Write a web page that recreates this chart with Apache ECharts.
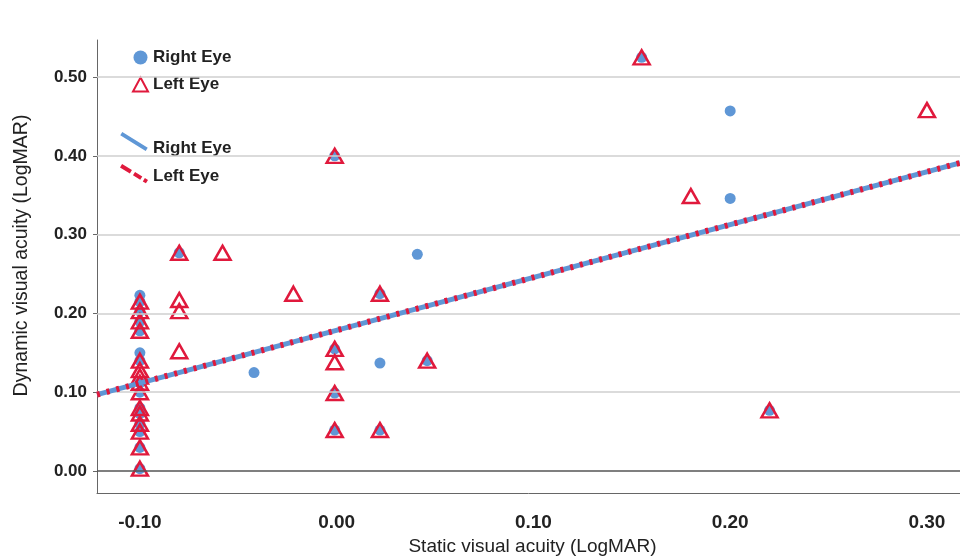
<!DOCTYPE html>
<html>
<head>
<meta charset="utf-8">
<script src="https://cdn.jsdelivr.net/npm/echarts@6/dist/echarts.min.js"></script>
<style>
html,body{margin:0;padding:0;background:#fff;}
#chart{width:960px;height:557px;}
</style>
</head>
<body>
<div id="chart"></div>
<script>
// ---- data ----
const xTicks = [-0.1, 0.0, 0.1, 0.2, 0.3];
const yTicks = [0.0, 0.1, 0.2, 0.3, 0.4, 0.5];

const rightEyeX = [-0.1, -0.1, -0.1, -0.1, -0.1, -0.1, -0.1, -0.1, -0.1, -0.1, -0.1, -0.1, -0.1, -0.1, -0.1,
                   -0.08, -0.001, -0.001, -0.001, -0.001, 0.022, 0.022, 0.046, 0.155, 0.22,
                   -0.042, 0.022, 0.041, 0.2, 0.2];
const rightEyeY = [0.223, 0.215, 0.203, 0.19, 0.178, 0.15, 0.14, 0.112, 0.10, 0.08, 0.073, 0.06, 0.05, 0.03, 0.003,
                   0.277, 0.40, 0.155, 0.099, 0.052, 0.225, 0.052, 0.14, 0.525, 0.077,
                   0.125, 0.137, 0.275, 0.457, 0.346];

const leftEyeX = [-0.1, -0.1, -0.1, -0.1, -0.1, -0.1, -0.1, -0.1, -0.1, -0.1, -0.1, -0.1, -0.1, -0.1, -0.1,
                  -0.08, -0.08, -0.08, -0.08, -0.058, -0.022,
                  -0.001, -0.001, -0.001, -0.001, -0.001, 0.022, 0.022, 0.046, 0.155, 0.18, 0.22, 0.30];
const leftEyeY = [0.215, 0.203, 0.19, 0.178, 0.14, 0.128, 0.12, 0.112, 0.10, 0.08, 0.073, 0.06, 0.05, 0.03, 0.003,
                  0.277, 0.217, 0.203, 0.152, 0.277, 0.225,
                  0.40, 0.155, 0.138, 0.099, 0.052, 0.225, 0.052, 0.14, 0.525, 0.349, 0.077, 0.458];

const fitRightX = [-0.1218, 0.3168];
const fitRightY = [0.097, 0.391];
const fitLeftX = [-0.1218, 0.3168];
const fitLeftY = [0.097, 0.391];

// ---- styles ----
const BLUE = '#5f97d6';
const RED = '#e0193c';
const FONT = 'Liberation Sans, Arial, sans-serif';

const zip = (xs, ys) => xs.map((x, i) => [x, ys[i]]);

// diagonal legend icons (with an invisible speck to push the drawn part upward)
function segPath(a, b) {
  const P = t => [1 + 26 * t, 1 + 16 * t];
  const n = [1.05, -1.7];
  const p1 = P(a), p2 = P(b);
  return 'M' + (p1[0] + n[0]) + ',' + (p1[1] + n[1]) +
         ' L' + (p2[0] + n[0]) + ',' + (p2[1] + n[1]) +
         ' L' + (p2[0] - n[0]) + ',' + (p2[1] - n[1]) +
         ' L' + (p1[0] - n[0]) + ',' + (p1[1] - n[1]) + ' Z ';
}
const speck = y => 'M14,' + y + ' L14.01,' + y + ' L14.01,' + (y + 0.01) + ' Z';
const solidIcon = 'path://' + segPath(0, 1) + speck(32);
const dashIcon = 'path://' + segPath(0, 0.38) + segPath(0.5, 0.78) + segPath(0.88, 1) + speck(25);

const chart = echarts.init(document.getElementById('chart'));
chart.setOption({
  animation: false,
  backgroundColor: '#fff',
  grid: { left: 97, right: 0, top: 40, bottom: 64, outerBoundsMode: 'none', containLabel: false },
  xAxis: {
    type: 'value',
    min: -0.1218, max: 0.3168,
    name: 'Static visual acuity (LogMAR)',
    nameLocation: 'middle',
    nameGap: 43,
    nameTextStyle: { fontFamily: FONT, fontSize: 19, color: '#222', padding: [0, 0, 0, 8] },
    axisLine: { show: true, onZero: false, lineStyle: { color: '#666', width: 1 } },
    axisTick: { show: false },
    splitLine: { show: false },
    axisLabel: {
      customValues: xTicks,
      formatter: v => v.toFixed(2),
      fontFamily: FONT, fontSize: 19, fontWeight: 'bold', color: '#222', margin: 20
    }
  },
  yAxis: {
    type: 'value',
    min: -0.0279, max: 0.547,
    name: 'Dynamic visual acuity (LogMAR)',
    nameLocation: 'middle',
    nameGap: 65,
    nameTextStyle: { fontFamily: FONT, fontSize: 19.5, color: '#222', padding: [0, 0, 0, 22] },
    axisLine: { show: true, onZero: false, lineStyle: { color: '#666', width: 1 } },
    axisTick: { show: true, customValues: yTicks, length: 4, lineStyle: { color: '#666' } },
    splitLine: { show: false },
    axisLabel: {
      customValues: yTicks,
      formatter: v => v.toFixed(2),
      fontFamily: FONT, fontSize: 17, fontWeight: 'bold', color: '#222', margin: 10
    }
  },
  legend: [
    {
      data: ['Right Eye', 'Left Eye'],
      orient: 'vertical',
      left: 114, top: 45,
      itemWidth: 15, itemHeight: 14, itemGap: 10,
      backgroundColor: '#fff',
      padding: [4, 14, 4, 18],
      textStyle: { fontFamily: FONT, fontSize: 17, fontWeight: 'bold', color: '#222' }
    },
    {
      data: [
        { name: 'Right Eye fit', icon: solidIcon },
        { name: 'Left Eye fit', icon: dashIcon }
      ],
      formatter: n => n.replace(' fit', ''),
      orient: 'vertical',
      left: 114, top: 128,
      itemWidth: 28, itemHeight: 32, itemGap: 0,
      backgroundColor: '#fff',
      padding: [4, 14, 0, 6],
      textStyle: { fontFamily: FONT, fontSize: 17, fontWeight: 'bold', color: '#222' }
    }
  ],
  series: [
    {
      name: 'gridlines',
      type: 'scatter',
      data: [],
      z: 1,
      silent: true,
      markLine: {
        silent: true,
        symbol: ['none', 'none'],
        label: { show: false },
        animation: false,
        data: yTicks.map(v => ({
          yAxis: v,
          lineStyle: { color: v === 0 ? '#555' : '#cfcfcf', width: 1.5, type: 'solid' }
        }))
      }
    },
    {
      name: 'Right Eye',
      type: 'scatter',
      symbol: 'circle',
      symbolSize: 11,
      z: 3,
      itemStyle: { color: BLUE, opacity: 1 },
      data: zip(rightEyeX, rightEyeY)
    },
    {
      name: 'Left Eye',
      type: 'scatter',
      symbol: 'triangle',
      symbolSize: [16, 14],
      z: 4,
      itemStyle: { color: 'rgba(255,255,255,0)', borderColor: RED, borderWidth: 2.5, opacity: 1 },
      data: zip(leftEyeX, leftEyeY)
    },
    {
      name: 'Right Eye fit',
      type: 'line',
      color: BLUE,
      symbol: 'none',
      z: 5,
      lineStyle: { color: BLUE, width: 5, type: 'solid' },
      data: zip(fitRightX, fitRightY)
    },
    {
      name: 'Left Eye fit',
      type: 'line',
      color: RED,
      symbol: 'none',
      z: 6,
      lineStyle: { color: RED, width: 6, type: [3, 7] },
      data: zip(fitLeftX, fitLeftY)
    }
  ]
});
</script>
</body>
</html>
